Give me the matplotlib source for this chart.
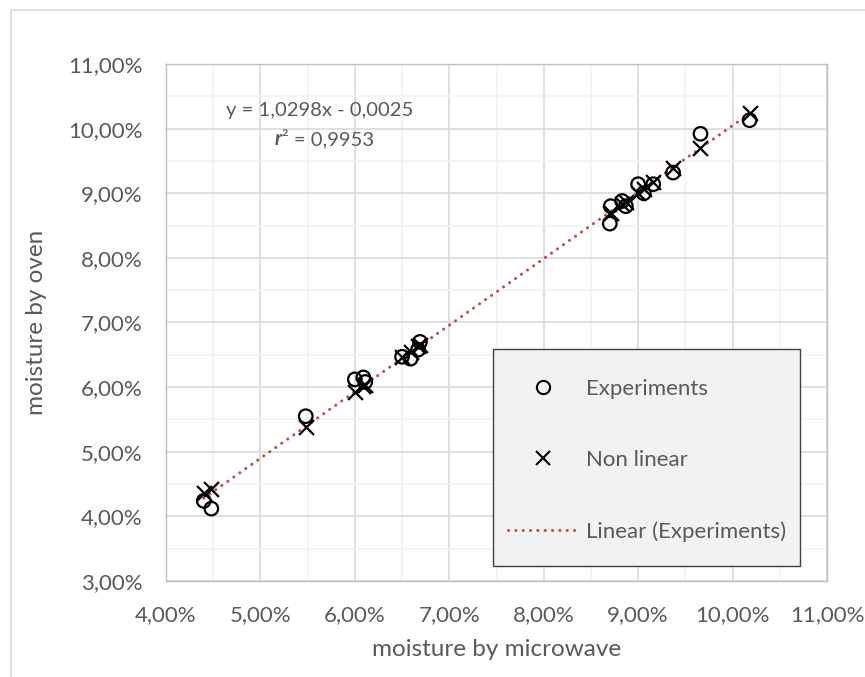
import numpy as np
import matplotlib
matplotlib.use("Agg")
import matplotlib.pyplot as plt
from matplotlib.ticker import FuncFormatter, MultipleLocator
from matplotlib.lines import Line2D
from matplotlib.patches import Rectangle

# moisture values, in percent
micro = [4.40, 4.48, 5.48, 6.00, 6.09, 6.11, 6.50, 6.59, 6.67, 6.69,
         8.70, 8.71, 8.83, 8.87, 9.00, 9.06, 9.16, 9.37, 9.66, 10.18]
oven_exp = [4.24, 4.12, 5.55, 6.12, 6.15, 6.08, 6.47, 6.44, 6.58, 6.70,
            8.53, 8.80, 8.88, 8.80, 9.14, 9.00, 9.14, 9.32, 9.92, 10.13]
oven_nl = [4.36, 4.43, 5.39, 5.93, 6.02, 6.04, 6.47, 6.55, 6.63, 6.65,
           8.69, 8.70, 8.83, 8.87, 9.01, 9.07, 9.18, 9.39, 9.70, 10.24]

slope = 1.0298
intercept = -0.0025
r2 = 0.9953

x = np.array(micro) / 100
y_exp = np.array(oven_exp) / 100
y_nl = np.array(oven_nl) / 100

plt.rcParams['font.family'] = ['Lato', 'DejaVu Sans']
txt = '#595959'
red = '#c0504d'
dots = (0, (0.05, 2.35))

fig = plt.figure(figsize=(8.65, 6.77), dpi=100)
W, H = 865, 677
ax = fig.add_axes([166/W, 1-581/H, (827-166)/W, (581-64)/H])

# chart frame
fig.patches.append(Rectangle((11/W, -0.1), 2, 1.1 - 10/H, transform=fig.transFigure,
                             fill=False, edgecolor='#d9d9d9', lw=1.2))

ax.scatter(x, y_exp, s=95, facecolors='none', edgecolors='black', linewidths=1.6,
           zorder=3)
ax.scatter(x, y_nl, s=115, marker='x', color='black', linewidths=1.6, zorder=4)

xl = np.array([x.min(), x.max()])
ax.plot(xl, slope*xl + intercept, color=red, lw=2.2, linestyle=dots,
        dash_capstyle='round', zorder=2)

ax.set_xlim(0.04, 0.11)
ax.set_ylim(0.03, 0.11)
ax.xaxis.set_major_locator(MultipleLocator(0.01))
ax.yaxis.set_major_locator(MultipleLocator(0.01))
ax.xaxis.set_minor_locator(MultipleLocator(0.005))
ax.yaxis.set_minor_locator(MultipleLocator(0.005))
fmt = FuncFormatter(lambda v, p: ('%.2f%%' % (v*100)).replace('.', ','))
ax.xaxis.set_major_formatter(fmt)
ax.yaxis.set_major_formatter(fmt)
ax.grid(which='major', color='#d9d9d9', lw=1.2)
ax.grid(which='minor', color='#f2f2f2', lw=1.2)
ax.set_axisbelow(True)
for s in ax.spines.values():
    s.set_color('#bfbfbf')
    s.set_linewidth(1.0)
ax.tick_params(which='both', length=0, labelsize=16, colors=txt, pad=17)

ax.set_xlabel('moisture by microwave', fontsize=17.5, color=txt, labelpad=10)
ax.set_ylabel('moisture by oven', fontsize=17.5, color=txt, labelpad=15)

# trendline equation
ax.text(0.0563, 0.1020, 'y = 1,0298x - 0,0025', fontsize=14.6, color=txt, ha='center')
r_lbl = ax.text(0.0515, 0.0975, 'r', fontsize=14.6, color=txt, style='italic',
                weight='bold')
ax.annotate('² = ' + ('%.4f' % r2).replace('.', ','), xy=(1, 0), xycoords=r_lbl,
            va='bottom', fontsize=14.6, color=txt)

# legend
box = Rectangle((493/W, 1-566/H), (800-493)/W, (566-349)/H, transform=fig.transFigure,
                facecolor='#f2f2f2', edgecolor='#404040', lw=1.0, zorder=6)
ax.add_patch(box)
box.set_clip_on(False)
handles = [Line2D([], [], marker='o', ls='none', mfc='none', mec='black', ms=9.5, mew=1.5),
           Line2D([], [], marker='x', ls='none', color='black', ms=9.5, mew=1.5),
           Line2D([], [], color=red, lw=2.2, ls=dots, dash_capstyle='round')]
leg = ax.legend(handles, ['Experiments', 'Non linear', 'Linear (Experiments)'],
                loc='upper left', bbox_to_anchor=(508/W, 1-379/H), bbox_transform=fig.transFigure,
                frameon=False, fontsize=16, labelspacing=2.3, handlelength=3.15,
                borderpad=0, handletextpad=0.36, borderaxespad=0)
leg.set_zorder(7)
for t in leg.get_texts():
    t.set_color(txt)

fig.savefig('out.png', dpi=100)
